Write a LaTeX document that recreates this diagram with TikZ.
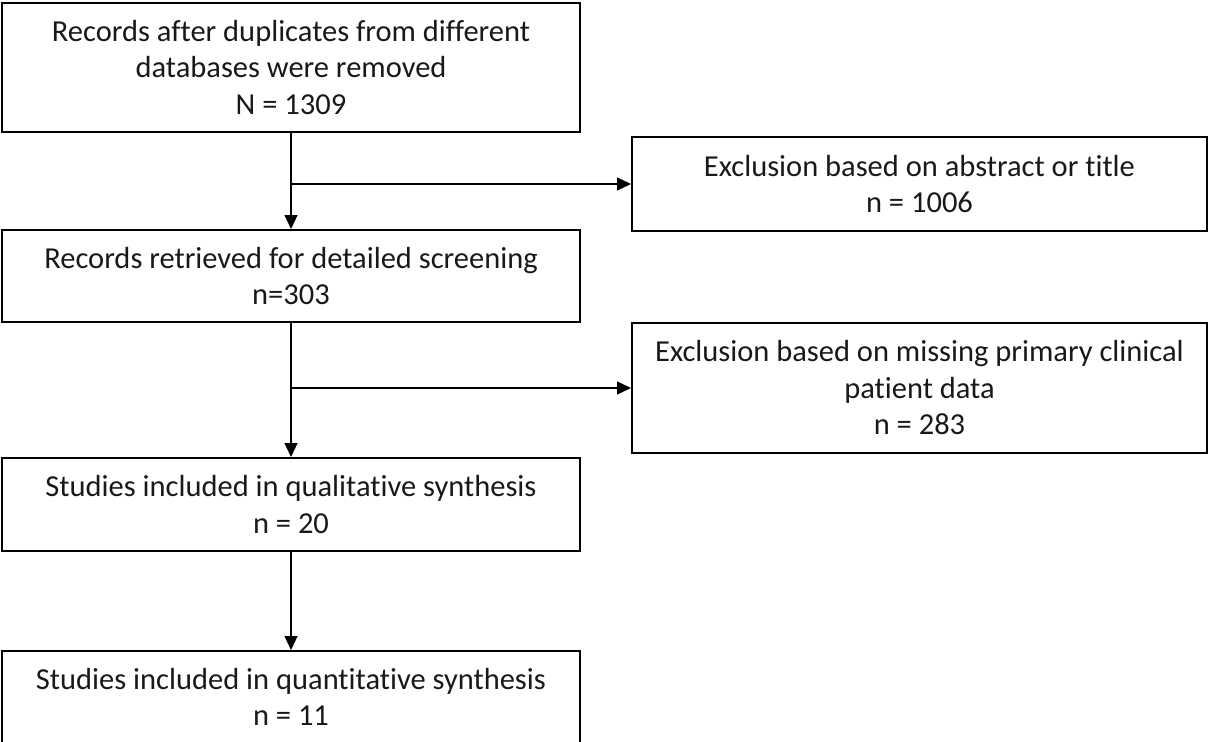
\documentclass[tikz,border=0pt]{standalone}
\usepackage{fontspec}
\setmainfont{Carlito}[Ligatures=NoCommon]
\usetikzlibrary{arrows.meta}
\tikzset{
  flowbox/.style={draw=black, line width=2bp, rectangle, align=center, inner sep=0pt,
    font=\fontsize{30.5bp}{36.5bp}\selectfont, text=black!90},
  conn/.style={draw=black, line width=1.2bp, -{Triangle[length=14bp,width=13bp]}}
}
\begin{document}
\begin{tikzpicture}[x=1bp,y=-1bp]
\useasboundingbox (0,0) rectangle (1208,742);
\node[flowbox, minimum width=578bp, minimum height=129bp] (b1) at (291,67.5)
  {Records after duplicates from different\\databases were removed\\N = 1309};
\node[flowbox, minimum width=575bp, minimum height=94bp] (b2) at (919.5,184)
  {Exclusion based on abstract or title\\n = 1006};
\node[flowbox, minimum width=578bp, minimum height=92bp] (b3) at (291,276)
  {Records retrieved for detailed screening\\n=303};
\node[flowbox, minimum width=575bp, minimum height=130bp] (b4) at (919.5,388)
  {Exclusion based on missing primary clinical\\patient data\\n = 283};
\node[flowbox, minimum width=578bp, minimum height=93bp] (b5) at (291,504.5)
  {Studies included in qualitative synthesis\\n = 20};
\node[flowbox, minimum width=578bp, minimum height=92bp] (b6) at (291,697)
  {Studies included in quantitative synthesis\\n = 11};
\coordinate (j1) at (b1.south |- b2.west);
\coordinate (j2) at (b3.south |- b4.west);
\draw[conn] (b1.south) -- (b3.north);
\draw[conn] (j1) -- (b2.west);
\draw[conn] (b3.south) -- (b5.north);
\draw[conn] (j2) -- (b4.west);
\draw[conn] (b5.south) -- (b6.north);
\end{tikzpicture}
\end{document}
